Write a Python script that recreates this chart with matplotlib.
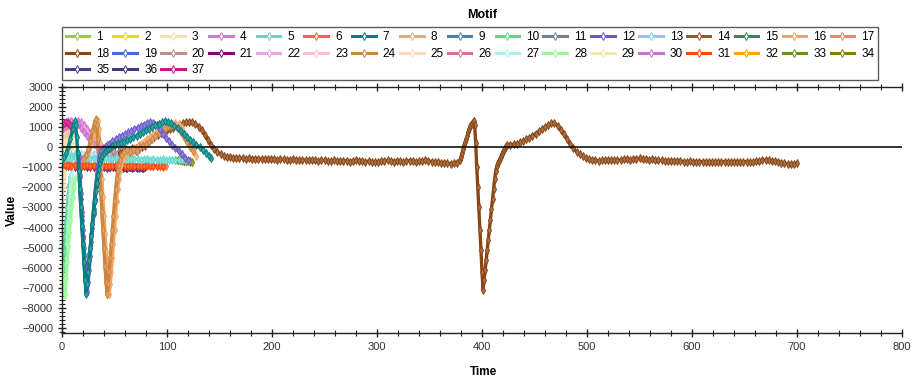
import numpy as np
import matplotlib
matplotlib.use('Agg')
import matplotlib.pyplot as plt
from matplotlib import colors as mcolors
from matplotlib.ticker import MultipleLocator

plt.rcParams['font.family'] = ['Liberation Sans', 'DejaVu Sans']

# ---------------- data ----------------
labels = [str(i) for i in range(1, 38)]
series_colors = ['#9ACD32', '#E6DC1E', '#F5DEB3', '#DA70D6', '#5FD8CC', '#FF6347', '#008080',
                 '#D2B48C', '#4682B4', '#5CD88A', '#708090', '#6A5ACD', '#87CEEB', '#A0522D',
                 '#2E8B57', '#F4A460', '#FA8072', '#8B4513', '#4169E1', '#BC8F8F', '#800080',
                 '#E6A8E6', '#FFC0CB', '#CD853F', '#FFDAB9', '#DB7093', '#AFEEEE', '#98FB98',
                 '#EEE8AA', '#CF6FCF', '#FF4500', '#FFA500', '#6B8E23', '#808000', '#483D8B',
                 '#3A3A80', '#C71585']

s1_t = [0, 1, 2, 3, 4, 5, 6]
s1_v = [300, 450, 600, 700, 650, 500, 350]
s2_t = [0, 1, 2, 3, 4, 5, 6, 7, 8, 9]
s2_v = [50, 250, 450, 600, 650, 550, 400, 250, 120, 30]
s3_t = [0, 1, 2, 3, 4, 5, 6]
s3_v = [-2600, -2000, -1400, -900, -600, -400, -300]
s4_t = [0, 3, 6, 9, 12, 15, 18, 21, 24, 27, 30, 33, 36, 39, 42, 45, 48, 51]
s4_v = [900, 1000, 1100, 1200, 1270, 1300, 1260, 1120, 930, 720, 520, 330, 150, -20, -180, -330, -460, -580]
# band series: start, step, values
s5_start, s5_step = 0, 3
s5_v = [-480, -520, -500, -540, -510, -530, -560, -520, -540, -570, -550, -530, -560, -580, -550,
        -570, -590, -560, -580, -600, -570, -590, -610, -580, -600, -620, -590, -610, -630, -600,
        -620, -640, -610, -630, -650, -620, -640, -660, -640, -660, -680]
s6_start, s6_step = 0, 3
s6_v = [-850, -880, -860, -900, -870, -890, -910, -880, -900, -920, -890, -910, -930, -900, -920,
        -900, -880, -910, -930, -900, -920, -940, -910, -930, -950, -920, -940, -910, -930, -950,
        -920, -940, -960, -930]
s7_t = [0, 2, 4, 6, 8, 10, 11, 12, 13, 14, 15, 16, 17, 18, 19, 20, 21, 22, 23, 24, 25, 26, 27, 28,
        29, 30, 31, 32, 33, 34, 35, 36, 37, 38, 40, 42, 44, 46, 48, 50, 53, 56, 59, 62, 65, 68, 71,
        74, 77, 80, 83, 86, 89, 92, 95, 98, 101, 104, 107, 110, 113, 116, 119, 122, 125, 128, 131,
        134, 137, 140, 142]
s7_v = [-600, -500, -300, 0, 400, 900, 1150, 1300, 1100, 500, -300, -1200, -2100, -3000, -3900,
        -4800, -5700, -6600, -7300, -6800, -6200, -5600, -5000, -4400, -3800, -3200, -2700, -2200,
        -1800, -1400, -1100, -800, -600, -450, -300, -200, -100, -30, 40, 100, 160, 220, 280, 340,
        420, 500, 580, 660, 750, 840, 930, 1020, 1100, 1180, 1250, 1300, 1280, 1200, 1080, 950,
        800, 650, 500, 370, 250, 120, 0, -130, -280, -430, -550]
s8_t = [24, 26, 28, 29, 30, 31, 32, 33, 34, 35, 36, 38]
s8_v = [-500, -300, 100, 500, 900, 1200, 1350, 1000, 400, -200, -600, -700]
s9_t = [19, 20, 21, 22, 23, 24, 25, 26]
s9_v = [-3600, -4500, -5400, -6300, -7000, -6500, -5900, -5300]
s10_t = [0, 1, 2, 3, 4, 5, 6, 7, 8]
s10_v = [-6800, -6000, -5200, -4400, -3700, -3000, -2400, -1900, -1500]
s11_t = [17, 19, 21, 23, 25, 27, 29, 31, 33, 35]
s11_v = [-1500, -3400, -5300, -7100, -6200, -5000, -3800, -2700, -1700, -900]
s12_t = [16, 17, 18, 19, 20, 21, 22, 23, 24, 25, 26, 27, 28, 29, 30, 31, 32, 33, 34, 35, 36, 37, 39,
         41, 43, 45, 48, 51, 54, 57, 60, 63, 66, 69, 72, 75, 78, 81, 84, 87, 90, 93, 96, 99, 102,
         105, 108, 111, 114, 117, 120]
s12_v = [-500, -1400, -2300, -3200, -4100, -5000, -5900, -6700, -7200, -6700, -6100, -5400, -4700,
         -4000, -3300, -2600, -2000, -1500, -1000, -650, -400, -200, -80, 20, 100, 180, 300, 400,
         500, 580, 660, 740, 820, 900, 980, 1060, 1130, 1200, 1250, 1230, 1100, 900, 680, 480, 300,
         130, -30, -200, -360, -520, -650]
s13_start, s13_step = 0, 3
s13_v = [-330, -360, -340, -370, -350, -330, -360, -380, -350, -370, -340, -360, -380, -350, -370, -390]
s14_t = [46, 49, 52, 55, 58, 61, 64, 67, 70, 73, 76, 79]
s14_v = [-300, -200, -350, -150, -300, -100, -250, -50, -200, -100, 0, 50]
s15_t = [16, 18, 20, 22, 23, 24, 26, 28, 30, 32, 34, 36]
s15_v = [-800, -2600, -4400, -6200, -7100, -6700, -5500, -4300, -3100, -2000, -1100, -500]
s16_t = [22, 25, 28, 30, 32, 34, 35, 36, 37, 38, 39, 40, 41, 42, 43, 44, 45, 46, 47, 48, 49, 50, 51,
         52, 53, 54, 55, 56, 58, 60, 63, 66, 69, 72, 75, 78, 81, 84, 87, 90, 93, 96, 99, 102, 105,
         108, 111, 114, 117, 120, 123, 126, 128]
s16_v = [-500, -300, 100, 600, 1000, 1300, 900, 200, -700, -1600, -2500, -3400, -4300, -5200, -6100,
         -6900, -7300, -6800, -6200, -5500, -4800, -4100, -3400, -2700, -2100, -1600, -1200, -900,
         -600, -400, -250, -150, -50, 50, 150, 280, 400, 520, 650, 780, 900, 1000, 1080, 1140, 1180,
         1200, 1150, 950, 650, 350, 50, -250, -450]
s17_start, s17_step = 0, 3
s17_v = [-800, -830, -810, -840, -820, -800, -830, -850, -820, -840]
# long series 18: three segments (start, step, values)
s18_a_start, s18_a_step = 55, 3
s18_a_v = [-300, -260, -200, -160, -80, -40, 40, 100, 200, 300,
           400, 520, 620, 720, 790, 850, 900, 980, 1050, 1130,
           1190, 1240, 1270, 1250, 1180, 1030, 850, 620, 380, 120,
           -80, -230, -340, -420, -470, -500, -530, -520, -560, -540,
           -580, -560, -590, -570, -600, -580, -610, -590, -570, -600,
           -620, -590, -610, -640, -620, -600, -630, -650, -620, -640,
           -660, -630, -650, -680, -660, -640, -670, -690, -660, -680,
           -700, -670, -690, -710, -680, -650, -670, -700, -720, -690,
           -710, -740, -720, -700, -680, -660, -690, -710, -680, -700,
           -720, -690, -670, -700, -720, -700, -680, -650, -680, -710,
           -730, -750, -780, -760, -800, -820, -790, -760, -650]
s18_b_start, s18_b_step = 380, 1
s18_b_v = [-500, -300, -100, 100, 250, 400, 550, 750, 900, 1050,
           1150, 1250, 1300, 1100, 200, -1000, -2000, -3000, -4100, -5100,
           -6200, -7100, -6600, -6100, -5600, -5100, -4600, -4100, -3600, -3100,
           -2600, -2100, -1600, -1200, -950, -800, -700, -600, -480, -360,
           -240, -120, -20, 60, 120]
s18_c_start, s18_c_step = 427, 3
s18_c_v = [130, 150, 180, 240, 320, 400, 480, 580, 680, 790,
           900, 1000, 1100, 1190, 1200, 1080, 880, 650, 400, 150,
           -50, -220, -360, -460, -540, -600, -640, -660, -680, -660,
           -650, -630, -660, -640, -620, -640, -610, -600, -620, -590,
           -570, -560, -580, -600, -620, -610, -640, -660, -650, -670,
           -690, -670, -680, -700, -690, -710, -720, -700, -720, -740,
           -720, -710, -730, -740, -720, -730, -750, -730, -720, -740,
           -730, -710, -730, -740, -720, -710, -730, -720, -700, -680,
           -650, -630, -640, -670, -700, -720, -760, -800, -830, -850,
           -820, -800]
s19_t = [17, 18, 19, 20, 21, 22, 23, 24, 25]
s19_v = [-2200, -3100, -4000, -4900, -5800, -6600, -7200, -6800, -6200]
s20_t = [40, 43, 46, 49, 52, 55, 58, 61, 64, 67, 70]
s20_v = [-250, -100, -300, -150, -350, -200, -100, -300, -150, -250, -100]
s21_start, s21_step = 0, 3
s21_v = [-950, -970, -940, -960, -980, -950, -970, -940, -960, -990, -960, -940, -970, -950,
         -980, -960, -940, -970, -990, -960, -980, -950, -970, -990, -960, -980, -1000]
s22_t = [0, 3, 6, 9, 12, 15, 18, 21, 24, 27, 30, 33, 36, 39, 42, 45]
s22_v = [700, 850, 1000, 1120, 1180, 1150, 1050, 900, 720, 520, 330, 140, -40, -200, -350, -480]
s23_t = [0, 2, 4, 6, 8, 10, 12]
s23_v = [600, 700, 800, 850, 800, 700, 600]
s24_t = [20, 23, 25, 27, 29, 31, 32, 33, 34, 35, 36, 37, 38, 39, 40, 41, 42, 43, 44, 45, 46, 47, 48,
         49, 50, 51, 52, 53, 54, 55, 57, 59, 62, 65, 68, 71, 74, 77, 80, 83, 86, 89, 92, 95, 98, 101,
         104, 107, 110, 113, 116, 119, 122, 125]
s24_v = [-600, -400, -100, 300, 800, 1200, 1400, 1100, 400, -500, -1400, -2300, -3200, -4100, -5000,
         -5900, -6700, -7300, -6800, -6200, -5500, -4800, -4100, -3400, -2700, -2100, -1600, -1200,
         -900, -650, -400, -250, -150, -250, -100, -200, 0, 50, 150, 250, 400, 550, 700, 850, 950,
         1050, 1100, 1080, 950, 750, 500, 250, 20, -200]
s25_t = [0, 2, 4, 6, 8, 10]
s25_v = [150, 250, 300, 280, 200, 100]
s26_t = [0, 2, 4, 6, 8, 10]
s26_v = [900, 1000, 1080, 1100, 1050, 950]
s27_t = [5, 6, 7, 8, 9, 10, 11, 13, 16, 19, 22, 25, 28, 31, 34, 37, 40]
s27_v = [-4800, -3900, -3000, -2100, -1400, -900, -650, -500, -430, -400, -420, -390, -410, -380,
         -400, -420, -400]
s28_t = [0, 1, 2, 3, 4, 5, 6, 7, 8, 9, 10, 11, 12]
s28_v = [-5800, -6600, -7200, -7350, -6500, -5700, -4900, -4200, -3600, -3000, -2500, -2000, -1600]
s29_t = [0, 1, 2, 3, 4, 5]
s29_v = [-1500, -1000, -600, -300, -100, 100]
s30_t = [0, 3, 6, 9, 12, 15, 18, 21, 24, 27, 30, 33, 36, 39, 42]
s30_v = [1050, 1200, 1300, 1330, 1280, 1150, 980, 780, 580, 380, 180, 0, -170, -320, -450]
s31_start, s31_step = 0, 3
s31_v = [-880, -900, -890, -920, -900, -880, -910, -930, -900, -920, -890, -910, -930, -900, -920,
         -940, -910, -890, -920, -900, -930, -910, -890, -920, -940, -910, -930, -900, -920, -940,
         -910, -930, -920]
s32_t = [38, 39, 40, 41, 42, 43, 44, 45, 46]
s32_v = [-3200, -4100, -5000, -5900, -6700, -7300, -6800, -6200, -5500]
s33_t = [108, 110, 112, 114, 116, 118, 120, 122]
s33_v = [-640, -660, -650, -680, -670, -700, -690, -710]
s34_t = [110, 112, 114, 116, 118, 120, 122, 124]
s34_v = [-620, -650, -640, -670, -690, -680, -700, -720]
s35_start, s35_step = 40, 3
s35_v = [-990, -1010, -980, -1000, -1020, -990, -1010, -1030, -1000, -1020, -990, -1010, -1030, -1000]
s36_start, s36_step = 50, 3
s36_v = [-980, -1000, -970, -990, -1010, -980, -1000, -1020, -990, -1010]
s37_t = [0, 2, 4, 6, 8]
s37_v = [1100, 1200, 1250, 1200, 1100]

x_ticks_major, x_ticks_minor = 100, 20
y_ticks_major, y_ticks_minor = 1000, 200


def band(start, step, vals):
    return [start + step * i for i in range(len(vals))], list(vals)


series = {
    1: (s1_t, s1_v), 2: (s2_t, s2_v), 3: (s3_t, s3_v), 4: (s4_t, s4_v),
    5: band(s5_start, s5_step, s5_v), 6: band(s6_start, s6_step, s6_v),
    7: (s7_t, s7_v), 8: (s8_t, s8_v), 9: (s9_t, s9_v), 10: (s10_t, s10_v),
    11: (s11_t, s11_v), 12: (s12_t, s12_v), 13: band(s13_start, s13_step, s13_v),
    14: (s14_t, s14_v), 15: (s15_t, s15_v), 16: (s16_t, s16_v),
    17: band(s17_start, s17_step, s17_v),
    19: (s19_t, s19_v), 20: (s20_t, s20_v), 21: band(s21_start, s21_step, s21_v),
    22: (s22_t, s22_v), 23: (s23_t, s23_v), 24: (s24_t, s24_v), 25: (s25_t, s25_v),
    26: (s26_t, s26_v), 27: (s27_t, s27_v), 28: (s28_t, s28_v), 29: (s29_t, s29_v),
    30: (s30_t, s30_v), 31: band(s31_start, s31_step, s31_v), 32: (s32_t, s32_v),
    33: (s33_t, s33_v), 34: (s34_t, s34_v), 35: band(s35_start, s35_step, s35_v),
    36: band(s36_start, s36_step, s36_v), 37: (s37_t, s37_v),
}
ta, va = band(s18_a_start, s18_a_step, s18_a_v)
tb, vb = band(s18_b_start, s18_b_step, s18_b_v)
tc, vc = band(s18_c_start, s18_c_step, s18_c_v)
series[18] = (ta + tb + tc, va + vb + vc)

# drawing order (style only)
zorders = {7: 2.6, 12: 2.5, 24: 2.45, 16: 2.4, 18: 2.35, 5: 2.3, 6: 2.2, 31: 2.25,
           32: 1.5, 9: 1.8, 19: 1.8, 11: 1.7, 15: 1.7, 35: 1.6, 36: 1.6, 21: 1.65}


def tint(c, f=0.25):
    r, g, b = mcolors.to_rgb(c)
    return (r + (1 - r) * f, g + (1 - g) * f, b + (1 - b) * f)


# ---------------- figure ----------------
W, H = 916, 382
fig = plt.figure(figsize=(W / 100, H / 100), dpi=100)
ax = fig.add_axes([62 / W, 49 / H, 840 / W, 246 / H])

handles = []
for i in range(1, 38):
    t, v = series[i]
    n = min(len(t), len(v))
    c = series_colors[i - 1]
    ln, = ax.plot(t[:n], v[:n], color=c, lw=2.4, marker='d', ms=4.0, solid_joinstyle='round',
                  mfc=tint(c), mec=c, mew=0.7, zorder=zorders.get(i, 2))
    handles.append(ln)

ax.axhline(0, color='#111111', lw=1.2, zorder=5)

ax.set_xlim(0, 800)
ax.set_ylim(-9250, 3000)
ax.xaxis.set_major_locator(MultipleLocator(x_ticks_major))
ax.xaxis.set_minor_locator(MultipleLocator(x_ticks_minor))
ax.yaxis.set_major_locator(MultipleLocator(y_ticks_major))
ax.yaxis.set_minor_locator(MultipleLocator(y_ticks_minor))
ax.tick_params(which='both', direction='inout', top=True, right=False, colors='#222222',
               labelsize=8)
ax.tick_params(which='major', length=6, width=1)
ax.tick_params(which='minor', length=4, width=0.8)
ax.tick_params(axis='x', which='both', labeltop=False)
for lab in ax.get_xticklabels() + ax.get_yticklabels():
    lab.set_color('#333333')
for sp in ax.spines.values():
    sp.set_color('#222222')
    sp.set_linewidth(1.0)
ax.spines['right'].set_visible(False)

fig.text(482 / W, 1 - 15 / H, 'Motif', ha='center', va='center', fontsize=9, fontweight='bold')
fig.text(12 / W, 1 - 210 / H, 'Value', ha='center', va='center', rotation=90,
         fontsize=8.5, fontweight='bold')
fig.text(484 / W, 1 - 372 / H, 'Time', ha='center', va='center', fontsize=8.5, fontweight='bold')

order = []
for j in range(17):
    for r in range(3):
        k = j + 17 * r
        if k < 37:
            order.append(k)
leg = fig.legend([handles[k] for k in order], [labels[k] for k in order],
                 loc='lower left', bbox_to_anchor=(62 / W, 1 - 80 / H, 816 / W, 47 / H),
                 mode='expand', ncol=17, fontsize=8.5, handlelength=2.0, handletextpad=0.6,
                 borderaxespad=0, frameon=True, fancybox=False, labelspacing=0.4,
                 borderpad=0.3, numpoints=1, columnspacing=0.5)
leg.get_frame().set_edgecolor('#333333')
leg.get_frame().set_linewidth(1.0)
for lh in leg.get_lines():
    lh.set_linewidth(2.2)
    lh.set_markersize(4)
    lh.set_markerfacecolor('white')

fig.savefig('out.png', dpi=100)
